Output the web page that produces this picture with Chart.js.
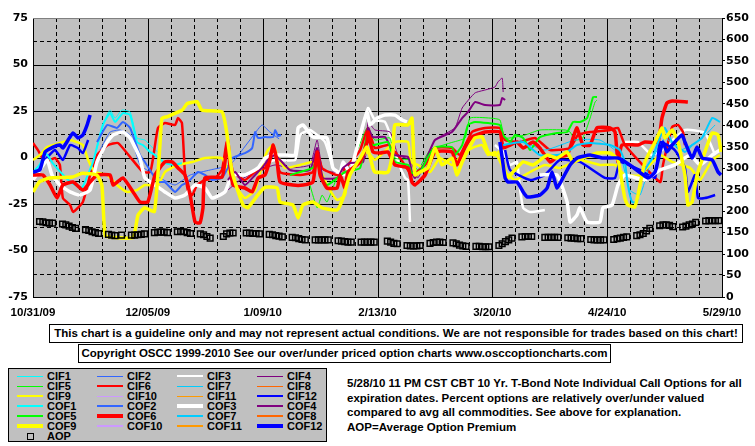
<!DOCTYPE html>
<html>
<head>
<meta charset="utf-8">
<script src="https://cdn.jsdelivr.net/npm/chart.js@4.4.1/dist/chart.umd.min.js"></script>
<style>
  body { margin: 0; background: #fff; }
  #page { position: relative; width: 755px; height: 446px; overflow: hidden;
          font-family: "Liberation Sans", Arial, sans-serif; font-weight: bold; color: #000; }
  #chartWrap { position: absolute; left: 0; top: 0; width: 755px; height: 322px; }
  .box { position: absolute; border: 1px solid #000; background: #fff; font-size: 11.5px;
         text-align: center; line-height: 17px; white-space: nowrap; }
  #legend { position: absolute; left: 8px; top: 368px; width: 317px; height: 72px;
            border: 1px solid #000; background: #c0c0c0; }
  .sample { position: absolute; width: 26px; }
  .label { position: absolute; font-family: "Liberation Sans Narrow", "Liberation Sans", sans-serif;
           font-size: 11px; line-height: 10px; white-space: nowrap; }
  .aopMark { position: absolute; width: 5px; height: 5px; border: 1px solid #000; }
  #note { position: absolute; left: 347px; top: 376px; font-size: 11.5px; line-height: 14.5px; white-space: nowrap; }
</style>
</head>
<body>
<div id="page">
  <div id="chartWrap"><canvas id="oscChart" width="755" height="322"></canvas></div>
  <div class="box" style="left:49px;top:324px;width:692px;height:17px;">This chart is a guideline only and may not represent actual conditions. We are not responsible for trades based on this chart!</div>
  <div class="box" style="left:78px;top:344px;width:531px;height:17px;">Copyright OSCC 1999-2010 See our over/under priced option charts www.osccoptioncharts.com</div>
  <div id="legend"></div>
  <div id="note">5/28/10 11 PM CST CBT 10 Yr. T-Bond Note Individual Call Options for all<br>expiration dates. Percent options are relatively over/under valued<br>compared to avg all commodities. See above for explanation.<br>AOP=Average Option Premium</div>
</div>
<script>
// x = days since 10/31/09, y = percent over/under valued (left axis)
const xLabels = ["10/31/09", "12/05/09", "1/09/10", "2/13/10", "3/20/10", "4/24/10", "5/29/10"];

const cif1 = [[18.9,1.3],[21.9,20.2],[23.5,25.5],[25,21.2],[27.1,25.5],[29.6,24.5],[31.7,10.5],[34.1,9.4],[36,6],[38,3]];
const cif2 = [[20.4,4],[23.5,13.7],[26.5,14.8],[29.6,12.1],[32.6,-4],[35.7,-7.8],[38.7,-11],[43.3,-14.8],[47.9,-9.4],[54,-6.7],[60,-4],[66.1,9.4],[69.8,17.5],[72,14],[75,10]];
const cif3 = [[69.2,-4],[73.8,-1.3],[79.9,-1.3],[81.4,12.1],[84.4,14.8],[89,8.3],[92,-7.8],[96.6,-9.4],[100.3,14.8],[102.1,26.6],[104.2,20.2],[107.3,19.1],[109.4,9.4],[111.3,-2.4],[113.4,-11],[114.3,-12.1],[114.9,-34.7],[120,null],
  [140.8,6.7],[143.3,3],[145.4,-4],[147.5,-2.4],[148.4,-16.4],[149.4,-27.1],[151.5,-29.3],[156,-28.2],[168,null],
  [180.4,8.3],[184.4,8.3],[188.6,1.3],[191.7,4],[198.7,14.8],[204.8,13.2],[207.9,1.3]];
const cif4 = [[59.4,-17.5],[63.1,-12.1],[69.2,-6.7],[73.8,-4],[78.3,-5.6],[84.4,-4],[86.6,9.4],[88.4,-6.7],[93.6,-7.8],[101.2,-0.3],[102.1,19.1],[104.2,14.8],[108.8,13.7],[111.3,1.3],[114.9,-1.3],[117.3,-11],[122.5,9.4],[128.6,15.9],[130.8,26.6],[134.7,34.7],[137.8,36.3],[140.8,37.9],[141.7,40.6],[143,42.7],[143.3,35.2]];
const cif5 = [[84.4,-14.8],[86.6,-27.1],[88.1,-20.2],[89.6,-23.9],[92.7,-11],[96.6,-5.6],[101.8,15.9],[104.2,9.4],[108.8,10.5],[110.3,-0.3],[114.9,-1.3],[117.3,-6.7],[121,4],[127.1,7.8],[131.7,10.5],[133.2,21.2],[139.3,21.2],[142.3,20.2],[143.9,10.5],[150,12.1],[154.5,14.8],[162.2,14.8],[163.7,13.7],[165.2,9.4],[167.6,10.5],[169.8,21.2],[171.3,29.8],[171.9,30.9]];
const cif6 = [[0,7.8],[1.5,4],[3.7,-2.4],[6.7,-0.3],[8.2,-4],[9.1,-21.8],[11.3,-25.5],[12.2,-29.3],[15.2,-23.9],[17.4,-9.4],[19.5,1.3],[22.9,6.7],[25.9,7.8],[29.6,0.3],[33.5,-7.8],[35.7,-7.8],[36.6,-0.3],[38.1,15.9],[40.2,18.5],[43.3,17.5],[44.2,21.2],[45.4,18.5],[46.3,-7.8],[47.2,-17.5],[48.5,-20.2],[50,-14.8],[52.4,-12.1],[55.5,-11],[57.6,-6.7],[59.1,8.3],[61,-7.8],[64.6,-12.1],[67.7,-7.8],[70.7,-5.6],[73.2,5.1],[75.3,-7.8],[81.4,-9.4],[85.3,-7.8],[86.6,4],[88.1,-5.6],[92.7,-9.4],[96,-4],[99.7,4],[102.1,15.9],[104.2,5.1],[108.2,6.7],[111.9,-0.3],[115.5,-9.4],[119.5,-4],[122.5,5.1],[127.7,5.1],[130.1,1.3],[133.8,13.7],[137.8,15.9],[142.3,15.9],[143.9,9.4],[148.4,8.3],[153,10.5],[157.6,4],[163.7,5.1],[166.1,12.1],[169.8,13.7],[175.9,14.8],[178.3,15.9],[180.4,6.7],[191.1,-13.2],[192,-4],[194.8,16.4],[196.6,17.5],[198.1,13.7],[198.7,6.7]];
const cif7 = [[148.4,9.4],[156,4],[165.2,9.4],[172.8,9.4],[178.9,1.3],[181.9,-17.5],[185,-20.2],[188,-4],[192.6,10.5],[197.2,4],[203.3,9.4],[207.9,17.5]];
const cif8 = [];
const cif9 = [[0,-1.3],[2.1,1.3],[4.3,5.6],[8.2,7.8],[11.3,9.4],[15.2,6.7],[16.8,-1.3],[18.9,-7.8],[22.6,-9.4],[25.6,-14.8],[28.7,-18.5],[31.7,-17.5],[34.1,-14.8],[38.1,-14.8],[40.2,-7.8],[44.2,-4],[48.5,-2.4],[52.4,-0.3],[57.6,-0.3],[59.1,-5.6],[61.6,-14.8],[64.6,-21.8],[67.7,-17.5],[69.8,-4],[71.6,4],[73.2,6.7],[74.4,1.3],[76.8,-5.6],[81.4,-4],[85.3,-2.4],[87.5,-6.7],[89.6,-14.8],[92.7,-22.8],[95.1,-20.2],[96,-7.8],[99.7,-2.4],[101.8,3],[104.2,-1.3],[110.3,8.3],[114.3,8.3],[115.2,-2.4],[117.3,-4],[121,-7.8],[124,-0.3],[127.7,-4],[130.8,1.3],[133.8,5.1],[136.9,6.7],[138.7,1.3],[140.8,3],[143.9,-7.8],[146.9,-12.1],[151.5,-7.8],[156,-4],[160.6,-5.6],[166.7,-1.3],[172.8,-4],[177.4,-4],[180.4,-9.4],[185,-9.4],[191.1,1.3],[194.8,-2.4],[200.3,-5.6],[203.3,-12.1],[207,-1.3],[209.4,1.3]];
const cif10 = [];
const cif11 = [];
const cif12 = [[0,-11],[3.7,-1.3],[6.7,4],[9.1,-1.3],[11.3,6.7],[13.7,5.1],[15.2,2.4],[16.8,9.4],[80,null],
  [143.9,4],[145.4,-6.7],[151.5,-12.1],[156,-9.4],[160.6,-1.3],[166.7,-2.4],[174.3,-11],[177.4,-11],[178.9,-2.4],[185,-6.7],[189.6,-11],[191.1,8.3],[195.6,4],[198.7,-5.6],[199.6,-18.5],[201.8,-9.4],[202.7,-21.8],[204.8,-21.8],[207.9,-20.2]];

const cof1 = [[0,-8],[2,-4],[4,2],[6,-3],[9,-9],[12,-14],[15,-16],[17,-8],[18.3,-2.4],[21.3,17.5],[23.5,23.9],[25,19.1],[27.4,23.9],[29.6,22.8],[31.7,8.3],[33.5,6.7],[35.7,3],[37.2,1.3],[40.2,-3],[43.3,-4],[45.4,-3]];
const cof2 = [[19.5,8.3],[22.6,17.5],[25.6,15.9],[27.4,19.1],[29.6,15.9],[32.6,1.3],[34.1,-2.4],[38.1,-13.2],[40.2,-13.2],[43.3,-18.5],[45.4,-14.8],[47.2,-13.2],[50.3,-7.8],[52.4,-9.4],[54.6,-12.1],[57.6,-11],[59.4,-5.6],[60.7,-0.3],[64.6,2.4],[66.8,5.1],[67.7,13.7],[68.6,10.5],[70.7,11],[73.2,11],[73.8,14.8],[74.7,11.6],[75.6,12.1]];
const cof3 = [[0,-12.1],[2.1,-6.7],[4.3,-1.3],[5.8,-9.4],[8.2,-14.8],[11.3,-18.5],[14.3,-20.2],[17.4,-17.5],[19.5,-2.4],[22.6,8.3],[24.4,12.1],[27.4,13.7],[29.6,10.5],[32.6,-0.3],[34.1,-11],[37.2,-14.8],[40.2,-18.5],[43.3,-21.8],[46.3,-20.2],[49.4,-14.8],[52.4,-16.4],[54.6,-21.8],[58.5,-18.5],[60.7,-9.4],[64.6,-9.4],[68.6,-5.6],[70.7,-0.3],[73.2,1.3],[77.4,1.3],[79.9,1.3],[80.8,15.9],[82.3,17.5],[85.3,11],[89.6,10.5],[91.4,-5.6],[93.6,-8.3],[94.5,-2.4],[96.6,-7.8],[99.7,12.1],[101.8,24.5],[102.7,17.5],[104.9,21.2],[107.3,22.8],[110.3,22.8],[112.5,20.2],[114,19.1],[130,null],
  [154.5,-9.4],[159.7,-9.4],[162.8,-23.9],[163.7,-34.7],[165.8,-30.9],[166.7,-27.1],[168.9,-34.7],[172.8,-34.7],[173.7,-27.1],[176.5,-25.5],[178.3,-14.8],[180.4,-9.4],[186.5,-12.1],[191.1,-6.7],[195.6,-4],[200.3,1.3],[203.3,-4],[207,1.3],[209.4,4]];
const cof4 = [[59.4,-12.1],[61.6,-7.8],[64.6,-14.8],[67.7,-9.4],[69.8,-5.6],[71.6,-1.3],[73.8,1.3],[78.3,-6.7],[84.4,-6.7],[86.6,5.1],[88.4,-11],[92.7,-11],[94.5,-5.6],[96.6,-3],[100.6,-2.4],[102.1,15.9],[103.6,11],[107.3,11],[110.3,1.3],[114.3,0.3],[115.5,-7.8],[116.4,-11],[119.5,-2.4],[122.5,9.4],[127.7,13.7],[130.8,21.2],[132.6,24.5],[134.7,29.8],[137.8,28.2],[142.3,28.2],[143,32],[143.9,30.9]];
const cof5 = [[78.3,-9.4],[85.3,-5.6],[86.6,-1.3],[87.5,-9.4],[89.6,-14.8],[92.7,-11],[95.1,-7.8],[99.7,-5.6],[101.8,12.1],[103.6,6.7],[108.2,8.3],[110.3,-2.4],[114.3,-4],[115.5,-8.3],[118,-7.8],[120.4,0.3],[122.5,5.6],[127.7,5.6],[128.6,1.3],[130.8,6.7],[132.6,17.5],[134.7,19.1],[138.7,18.5],[142.3,17.5],[143.3,12.1],[145.4,8.3],[146.9,12.1],[149.4,10.5],[151.5,4],[154.5,11],[159.7,13.2],[162.8,13.7],[164.6,19.1],[166.7,19.1],[168.9,21.2],[170.7,32.5],[171.9,32.5]];
const cof6 = [[0,-9.4],[3,-9.4],[5.2,-14.8],[7.3,-21.8],[9.1,-14.8],[12.2,-13.2],[15.2,-17.5],[17.4,-13.2],[19.5,-9.4],[23.5,-9.4],[24.4,-14.8],[27.4,-11],[30.5,-18.5],[32.6,-23.9],[35,-23.9],[37.2,-9.4],[40.2,-2.4],[42.4,-2.4],[44.2,-5.6],[46.3,-9.4],[47.9,-20.2],[49.4,-34.7],[50.9,-35.2],[51.8,-27.1],[52.4,-11],[57.6,-10.5],[58.5,-2.4],[59.4,9.4],[60,-4],[61,-14.8],[64.6,-16.4],[66.8,-18.5],[68.6,-11],[70.7,-9.4],[72.2,-1.3],[73.2,6.7],[74.4,-2.4],[75.3,-13.2],[79.2,-14.8],[82.3,-14.8],[85.3,-13.2],[86.6,3],[87.5,-9.4],[89.6,-16.4],[92.7,-16.4],[93.6,-9.4],[95.1,-16.4],[96,-7.8],[99.7,-2.4],[101.8,8.3],[102.1,13.7],[103.6,3],[105.8,2.4],[108.2,3],[110.3,-4],[114.3,-5.6],[115.5,-13.2],[116.4,-14.8],[119.5,-9.4],[122.5,3],[127.7,3],[129.2,-4],[131.7,5.6],[133.8,11],[137.8,13.7],[142.3,13.7],[143.3,5.1],[145.4,6.7],[147.5,8.3],[149.4,5.1],[152.4,8.3],[154.5,5.1],[157.6,-2.4],[159.7,0.3],[162.8,1.3],[164.6,10.5],[165.8,15.9],[167.6,6.7],[169.8,6.7],[171.9,15.9],[175.9,15.9],[177.4,13.7],[178.3,-2.4],[179.5,6.7],[184.4,6.7],[186.5,8.3],[190.5,8.3],[191.7,21.2],[193.2,29.3],[194.8,30.4],[199.6,29.8]];
const cof7 = [[143.3,6.7],[149.4,8.3],[154.5,1.3],[159.7,1.3],[162.8,3],[165.8,6.7],[169.8,7.8],[175.9,6.7],[178.9,4],[180.4,-2.4],[181.3,-14.8],[182.6,-23.9],[184.1,-23.9],[185.6,-9.4],[188.7,-0.3],[191.7,13.7],[192.6,15.9],[194.8,8.3],[198.7,3],[200.9,6.7],[203.9,10.5],[207,21.2],[209.4,19.1]];
const cof8 = [];
const cof9 = [[0,-18.5],[2,-13],[5,-11],[12,-10.5],[15,-8.5],[19.5,-9.5],[21,-15],[22,-42],[24.5,-43],[30.5,-43],[32,-31],[34,-27],[37,-29],[38.7,7],[39.3,21],[41,22],[45.5,25.5],[47,29],[50,30],[51.5,25.5],[57.6,24.5],[59,14],[60.7,-8],[64,-25.5],[65.5,-27],[68.6,-20],[70.7,-16],[74.4,-16.4],[75.3,-23.9],[79.2,-25.5],[80.8,-32.5],[82.3,-25.5],[85.3,-23.9],[88.1,-27.1],[92.7,-28.2],[94.5,-21.8],[96.6,-9.4],[99.7,-0.3],[101.8,5.6],[103.6,-5.6],[104.2,-7.8],[108.2,-7.8],[109.7,3],[110.3,17.5],[114.3,17.5],[115.5,21.2],[116.4,-9.4],[118,-7.8],[120.4,-5.6],[122.5,5.1],[124.7,-4],[127.7,-0.3],[129.2,-9.4],[130.8,-2.4],[134.7,10.5],[136.9,11],[138.7,3],[140.8,1.3],[142.3,3],[144.5,-11],[146.3,-7.8],[149.4,-2.4],[152.4,-4],[156.7,1.3],[159.7,-0.3],[162.8,3],[164.6,-2.4],[167.6,-0.3],[171.9,2.4],[175.9,2.4],[178.3,-1.3],[179.5,-13.2],[180.4,-21.8],[181.3,-25.5],[183.4,-26.6],[184.4,-20.2],[186.5,-2.4],[189.6,8.3],[191.7,15.9],[192.6,10.5],[194.8,14.8],[196.6,8.3],[198.7,-9.4],[199.6,-25.5],[200.9,-23.9],[202.4,-9.4],[204.8,3],[207,13.2],[208.8,12.1],[209.7,3]];
const cof10 = [];
const cof11 = [];
const cof12 = [[0,-7.8],[2.1,-6.7],[3.7,3],[6.1,5.6],[8.2,6.7],[9.1,5.1],[10.7,9.4],[12.2,13.2],[13.7,10.5],[15.2,12.1],[16.5,17.5],[17.4,22.8],[80,null],
  [142.3,8.3],[143.3,-4],[143.9,-11],[144.8,-13.2],[147.5,-13.2],[149.4,-18.5],[150.6,-21.2],[154.5,-20.2],[156.7,-16.4],[158.2,-7.8],[159.7,-16.4],[161.5,-11],[163.7,-4],[165.8,-0.3],[169.8,1.3],[173.7,-0.3],[178.3,-0.3],[181.9,-4],[187.5,-11],[189.6,-7.8],[191.1,3],[192,8.3],[193.2,3],[194.8,6.7],[197.8,12.1],[198.7,8.3],[200.9,-0.3],[202.4,5.6],[204,-0.3],[207,-1.3],[208.8,-7.8],[209.7,-9.4]];

// Average option premium (right axis), one row per week Mon..Fri, null = market closed
const aopWeeks = [
  [176,175,173,172,172], [170,168,165,162,160], [157,155,152,150,148], [146,144,143,null,144],
  [144,144,145,146,147], [150,151,151,151,150], [152,153,152,150,148], [147,145,141,137,null],
  [141,147,149,149,null], [149,149,148,148,147], [146,145,143,142,140], [139,138,136,134,133],
  [133,133,133,133,133], [131,130,129,128,128], [128,128,128,128,128], [null,130,128,125,124],
  [120,119,119,119,120], [125,127,128,128,127], [126,124,121,119,118], [118,118,117,117,117],
  [120,124,129,133,137], [140,141,141,141,null], [139,139,139,139,139], [138,137,137,136,136],
  [134,133,133,133,133], [134,136,137,139,140], [143,145,148,154,160], [166,168,168,167,164],
  [163,165,168,170,174], [177,178,178,178,178]
];

// name, data, colour, width
const series = [
  ["CIF1", cif1, "#00ffff", 1], ["CIF2", cif2, "#3366ff", 1], ["CIF3", cif3, "#ffffff", 2.5], ["CIF4", cif4, "#800080", 1],
  ["CIF5", cif5, "#00ff00", 1], ["CIF6", cif6, "#ff0000", 2.5], ["CIF7", cif7, "#00ccff", 1], ["CIF8", cif8, "#ff6600", 1],
  ["CIF9", cif9, "#ffff00", 2.5], ["CIF10", cif10, "#cc99ff", 1], ["CIF11", cif11, "#ff9900", 1], ["CIF12", cif12, "#0000ff", 2.5],
  ["COF1", cof1, "#00ffff", 2], ["COF2", cof2, "#3366ff", 2], ["COF3", cof3, "#ffffff", 3.5], ["COF4", cof4, "#800080", 2],
  ["COF5", cof5, "#00ff00", 2], ["COF6", cof6, "#ff0000", 3.5], ["COF7", cof7, "#00ccff", 2], ["COF8", cof8, "#ff6600", 2],
  ["COF9", cof9, "#ffff00", 3.5], ["COF10", cof10, "#cc99ff", 2], ["COF11", cof11, "#ff9900", 2], ["COF12", cof12, "#0000ff", 3.5]
];

const datasets = series.map((s, i) => ({
  label: s[0],
  data: s[1].map(p => ({ x: p[0], y: p[1] })),
  borderColor: s[2],
  borderWidth: s[3],
  pointRadius: 0,
  tension: 0.15,
  yAxisID: "y",
  order: -i
}));

const aopPoints = [];
aopWeeks.forEach((week, w) => week.forEach((v, i) => {
  if (v !== null) aopPoints.push({ x: 2 + 7 * w + i, y: v });
}));
datasets.push({
  label: "AOP", data: aopPoints, yAxisID: "y1", showLine: false,
  pointStyle: "rect", pointRadius: 4, pointBorderColor: "#000",
  pointBackgroundColor: "rgba(0,0,0,0)", pointBorderWidth: 1.5, order: -30
});

// grey plot area with dashed weekly / 12.5 grid and solid 5-week / 25 grid
const oldGrid = {
  id: "oldGrid",
  beforeDatasetsDraw(chart) {
    const { ctx, chartArea: a, scales } = chart;
    const sx = scales.x, sy = scales.y;
    const px = v => Math.round(sx.getPixelForValue(v)) + 0.5;
    const py = v => Math.round(sy.getPixelForValue(v)) + 0.5;
    const vline = x => { ctx.beginPath(); ctx.moveTo(x, a.top); ctx.lineTo(x, a.bottom); ctx.stroke(); };
    const hline = y => { ctx.beginPath(); ctx.moveTo(a.left, y); ctx.lineTo(a.right, y); ctx.stroke(); };
    ctx.save();
    ctx.fillStyle = "#c0c0c0";
    ctx.fillRect(a.left, a.top, a.right - a.left, a.bottom - a.top);
    ctx.lineWidth = 1;
    ctx.strokeStyle = "#000";
    ctx.setLineDash([4, 3]);
    for (let d = 7; d < 210; d += 7) if (d % 35) vline(px(d));
    for (let v = -62.5; v < 75; v += 25) hline(py(v));
    ctx.setLineDash([]);
    for (let d = 0; d <= 210; d += 35) vline(px(d));
    for (let v = -75; v < 75; v += 25) hline(py(v));
    ctx.strokeStyle = "#808080";
    hline(py(75));
    ctx.restore();
  }
};

const xFont = { family: "Liberation Sans", size: 11.5, weight: "bold" };
const yFont = { family: "DejaVu Sans", size: 11, weight: "bold" };

new Chart(document.getElementById("oscChart"), {
  type: "line",
  data: { datasets: datasets },
  options: {
    responsive: false,
    animation: false,
    layout: { padding: { top: 18, left: 0, right: 0, bottom: 0 } },
    plugins: { legend: { display: false }, tooltip: { enabled: false } },
    scales: {
      x: {
        type: "linear", min: 0, max: 210,
        grid: { display: false, drawTicks: false }, border: { display: false },
        ticks: {
          stepSize: 35, autoSkip: false, maxRotation: 0, padding: 9,
          color: "#000", font: xFont,
          callback: v => (v % 35 === 0 ? xLabels[v / 35] : "")
        },
        afterFit: s => { s.height = 25; }
      },
      y: {
        min: -75, max: 75,
        grid: { display: false, drawTicks: false }, border: { display: false },
        ticks: { stepSize: 25, padding: 5, color: "#000", font: yFont },
        afterFit: s => { s.width = 33; }
      },
      y1: {
        position: "right", min: 0, max: 650,
        grid: { drawOnChartArea: false, drawTicks: true, tickLength: 3, color: "#000" },
        border: { display: true, color: "#000" },
        ticks: { stepSize: 50, padding: 1, color: "#000", font: yFont },
        afterFit: s => { s.width = 33; }
      }
    }
  },
  plugins: [oldGrid]
});

// legend box, 4 columns in series order, then AOP
const legend = document.getElementById("legend");
series.forEach((s, i) => {
  const col = i % 4, row = Math.floor(i / 4);
  const cy = 7 + row * 10;
  const line = document.createElement("div");
  line.className = "sample";
  line.style.left = (8 + col * 80) + "px";
  line.style.top = (cy - s[3] / 2) + "px";
  line.style.height = s[3] + "px";
  line.style.background = s[2];
  legend.appendChild(line);
  const lab = document.createElement("div");
  lab.className = "label";
  lab.style.left = (38 + col * 80) + "px";
  lab.style.top = (cy - 5) + "px";
  lab.textContent = s[0];
  legend.appendChild(lab);
});
const mark = document.createElement("div");
mark.className = "aopMark";
mark.style.left = "18px";
mark.style.top = (7 + 60 - 3) + "px";
legend.appendChild(mark);
const aopLab = document.createElement("div");
aopLab.className = "label";
aopLab.style.left = "38px";
aopLab.style.top = (7 + 60 - 5) + "px";
aopLab.textContent = "AOP";
legend.appendChild(aopLab);
</script>
</body>
</html>
